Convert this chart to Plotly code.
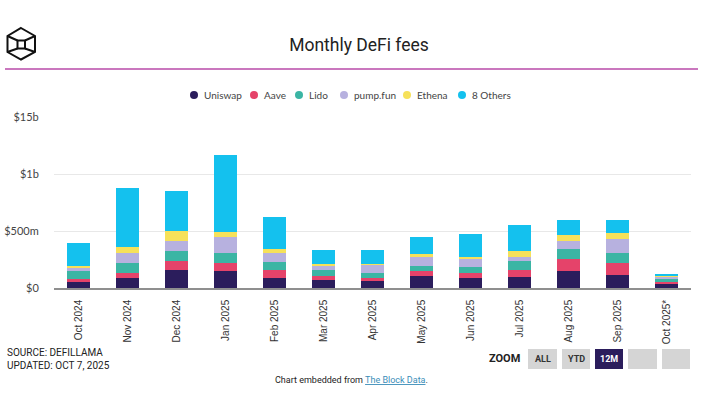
import plotly.graph_objects as go

# ---------------- data (USD millions) ----------------
months = ["Oct 2024", "Nov 2024", "Dec 2024", "Jan 2025", "Feb 2025", "Mar 2025",
          "Apr 2025", "May 2025", "Jun 2025", "Jul 2025", "Aug 2025", "Sep 2025", "Oct 2025*"]
uniswap = [52, 87, 154, 145, 87, 67, 58, 102, 84, 99, 151, 116, 32]
aave = [26, 49, 81, 78, 67, 41, 29, 44, 49, 61, 102, 102, 20]
lido = [72, 87, 93, 81, 70, 46, 49, 49, 55, 78, 93, 87, 25]
pumpfun = [24, 84, 87, 145, 84, 44, 70, 81, 67, 38, 67, 122, 20]
ethena = [19, 49, 87, 46, 32, 15, 6, 20, 20, 49, 52, 52, 5]
others = [201, 517, 349, 674, 285, 122, 122, 154, 198, 227, 128, 119, 20]

series_names = ["Uniswap", "Aave", "Lido", "pump.fun", "Ethena", "8 Others"]
series_values = [uniswap, aave, lido, pumpfun, ethena, others]
series_colors = ["#2b1d5c", "#e5436a", "#3bb5a4", "#b7b1df", "#f6e15a", "#14c1ee"]

ytick_vals = [0, 500, 1000, 1500]
ytick_text = ["$0", "$500m", "$1b", "$15b"]

# ---------------- layout geometry ----------------
W, H = 712, 398
L, R, T, B = 54, 21, 117, 110
PW = W - L - R
PH = H - T - B


def px(x):
    return (x - L) / PW


def py(y):
    return (H - B - y) / PH


fig = go.Figure()
for name, vals, col in zip(series_names, series_values, series_colors):
    fig.add_trace(go.Bar(x=months, y=vals, name=name, marker=dict(color=col, line=dict(width=0)),
                         showlegend=False))

shapes = []
annotations = []

# header divider line
shapes.append(dict(type="line", xref="paper", yref="paper", x0=px(5), x1=px(698), y0=py(69), y1=py(69),
                   line=dict(color="#b84aa8", width=1.5)))

# logo (cube)
hexv = [(21, 28), (35, 36), (35, 52), (21, 59.5), (7.5, 52), (7.5, 36)]
path = "M " + " L ".join(f"{px(x):.5f},{py(y):.5f}" for x, y in hexv) + " Z"
shapes.append(dict(type="path", xref="paper", yref="paper", path=path, line=dict(color="#111", width=2)))
sq = [(17.5, 40.5), (25, 40.5), (25, 48.5), (17.5, 48.5)]
path = "M " + " L ".join(f"{px(x):.5f},{py(y):.5f}" for x, y in sq) + " Z"
shapes.append(dict(type="path", xref="paper", yref="paper", path=path, line=dict(color="#111", width=2)))
for (x0, y0), (x1, y1) in [((7.5, 36), (17.5, 40.5)), ((35, 36), (25, 40.5)),
                           ((7.5, 52), (17.5, 48.5)), ((35, 52), (25, 48.5))]:
    shapes.append(dict(type="line", xref="paper", yref="paper", x0=px(x0), y0=py(y0), x1=px(x1), y1=py(y1),
                       line=dict(color="#111", width=2)))

# custom legend (dots + labels)
legend_dot_x = [194, 254, 299, 344, 407, 462]
for name, col, cx in zip(series_names, series_colors, legend_dot_x):
    cy, r = 95, 4
    shapes.append(dict(type="circle", xref="paper", yref="paper", x0=px(cx - r), x1=px(cx + r),
                       y0=py(cy + r), y1=py(cy - r), fillcolor=col, line=dict(width=0)))
    annotations.append(dict(text=name, xref="paper", yref="paper", x=px(cx + 8), y=py(cy), xanchor="left",
                            yanchor="middle", showarrow=False,
                            font=dict(family="Lato, Open Sans, sans-serif", size=10, color="#444")))

# source text
annotations.append(dict(text="SOURCE: DEFILLAMA<br>UPDATED: OCT 7, 2025", xref="paper", yref="paper",
                        x=px(5), y=py(359), xanchor="left", yanchor="middle", align="left", showarrow=False,
                        font=dict(family="Liberation Sans Narrow, Roboto, sans-serif", size=10, color="#222")))

# zoom buttons
annotations.append(dict(text="<b>ZOOM</b>", xref="paper", yref="paper", x=px(522), y=py(358),
                        xanchor="right", yanchor="middle", showarrow=False,
                        font=dict(family="Liberation Sans Narrow, Roboto, sans-serif", size=11, color="#222")))
buttons = [("ALL", 528, 557, "#d5d5d5", "#333"), ("YTD", 562, 590, "#d5d5d5", "#333"),
           ("12M", 595, 623, "#2b1d5c", "#ffffff"), ("", 628, 657, "#d5d5d5", "#333"),
           ("", 662, 690, "#d5d5d5", "#333")]
for label, x0, x1, fill, tc in buttons:
    shapes.append(dict(type="rect", xref="paper", yref="paper", x0=px(x0), x1=px(x1), y0=py(369), y1=py(349),
                       fillcolor=fill, line=dict(width=0)))
    if label:
        annotations.append(dict(text=f"<b>{label}</b>", xref="paper", yref="paper", x=px((x0 + x1) / 2),
                                y=py(359), xanchor="center", yanchor="middle", showarrow=False,
                                font=dict(family="Liberation Sans Narrow, Roboto, sans-serif", size=9, color=tc)))

# embedded note
annotations.append(dict(text="Chart embedded from <span style='color:#3a8db8'><u>The Block Data</u></span>.",
                        xref="paper", yref="paper", x=px(351), y=py(380), xanchor="center", yanchor="middle",
                        showarrow=False,
                        font=dict(family="Liberation Sans Narrow, Roboto, sans-serif", size=9, color="#222")))

fig.update_layout(
    width=W, height=H,
    margin=dict(l=L, r=R, t=T, b=B, pad=0, autoexpand=False),
    paper_bgcolor="white", plot_bgcolor="white",
    barmode="stack", bargap=0.54,
    showlegend=False,
    title=dict(text="Monthly DeFi fees", x=359 / W, xanchor="center", xref="container",
               y=1 - 45 / H, yanchor="middle", yref="container",
               font=dict(family="Roboto, sans-serif", size=17.5, color="#222")),
    xaxis=dict(type="category", tickangle=-90, showgrid=False, showline=True, linecolor="#8f8f8f",
               linewidth=1.5, ticks="", automargin=False,
               tickfont=dict(family="Liberation Sans, Arial, sans-serif", size=10, color="#333"),
               ticklabelstandoff=6),
    yaxis=dict(range=[0, 1500], tickvals=ytick_vals, ticktext=ytick_text, showgrid=True, gridcolor="#e8e8e8",
               gridwidth=1, zeroline=False, showline=False, ticks="outside", ticklen=12,
               tickcolor="rgba(0,0,0,0)", automargin=False,
               tickfont=dict(family="Lato, sans-serif", size=11, color="#444")),
    shapes=shapes,
    annotations=annotations,
)

fig.write_html("out.html", config={"displayModeBar": False},
               post_script="document.body.style.margin='0';")
